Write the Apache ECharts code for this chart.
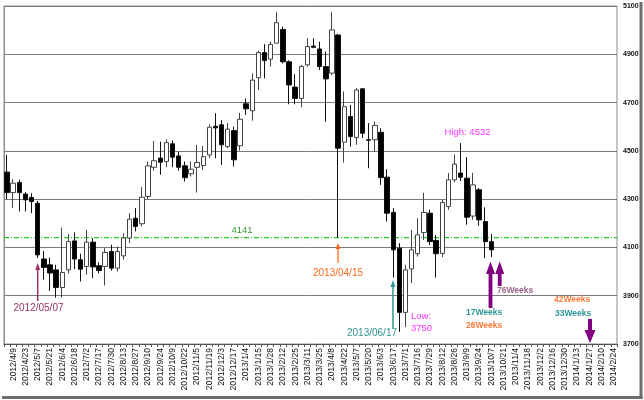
<!DOCTYPE html>
<html>
<head>
<meta charset="utf-8">
<script src="https://cdn.jsdelivr.net/npm/echarts@6/dist/echarts.min.js"></script>
<style>
html,body{margin:0;padding:0;background:#fff;}
#c{width:644px;height:400px;}
</style>
</head>
<body>
<div id="c"></div>
<script>
const dates = [
'2012/4/2','2012/4/9','2012/4/16','2012/4/23','2012/5/1','2012/5/7','2012/5/14','2012/5/21','2012/5/28','2012/6/4',
'2012/6/11','2012/6/18','2012/6/25','2012/7/2','2012/7/9','2012/7/17','2012/7/23','2012/7/30','2012/8/6','2012/8/13',
'2012/8/20','2012/8/27','2012/9/3','2012/9/10','2012/9/18','2012/9/24','2012/10/1','2012/10/9','2012/10/15','2012/10/22',
'2012/10/29','2012/11/5','2012/11/12','2012/11/19','2012/11/26','2012/12/3','2012/12/10','2012/12/17','2012/12/25','2013/1/4',
'2013/1/7','2013/1/15','2013/1/21','2013/1/28','2013/2/4','2013/2/12','2013/2/18','2013/2/25','2013/3/4','2013/3/11',
'2013/3/18','2013/3/25','2013/4/1','2013/4/8','2013/4/15','2013/4/22','2013/4/30','2013/5/7','2013/5/13','2013/5/20',
'2013/5/27','2013/6/3','2013/6/10','2013/6/17','2013/6/24','2013/7/1','2013/7/8','2013/7/16','2013/7/22','2013/7/29',
'2013/8/5','2013/8/12','2013/8/19','2013/8/26','2013/9/2','2013/9/9','2013/9/17','2013/9/24','2013/9/30','2013/10/7',
'2013/10/15','2013/10/21','2013/10/28','2013/11/4','2013/11/11','2013/11/18','2013/11/25','2013/12/2','2013/12/9','2013/12/16',
'2013/12/24','2013/12/30','2014/1/6','2014/1/13','2014/1/20','2014/1/27','2014/2/3','2014/2/10','2014/2/17','2014/2/24'
];
const openV = [
4412,4327,4369,4321,4307,4283,4052,4028,4007,3934,
4007,4127,4049,4021,4122,4024,4021,4083,4014,4065,
4139,4221,4198,4311,4432,4470,4456,4529,4479,4438,
4405,4432,4439,4483,4602,4608,4518,4584,4521,4695,
4666,4803,4907,4880,4946,5003,4869,4764,4717,4856,
4934,4922,4849,4822,4980,4536,4642,4555,4757,4546,
4546,4577,4391,4245,4097,3831,4011,4074,4162,4242,
4129,4075,4269,4380,4408,4387,4230,4339,4207,4124
];
const closeV = [
4327,4366,4327,4297,4290,4069,4017,3994,3934,3996,
4124,4052,4010,4122,4019,4004,4079,4014,4083,4139,
4217,4187,4308,4438,4459,4453,4534,4474,4432,4389,
4424,4452,4476,4598,4595,4525,4590,4463,4631,4674,
4793,4907,4874,4941,5031,4869,4773,4717,4849,4932,
4929,4849,4798,5001,4511,4683,4559,4752,4573,4544,
4605,4389,4242,4090,3831,4007,4090,4152,4245,4124,
4074,4286,4380,4445,4391,4225,4359,4214,4124,4090
];
const lowV = [
4300,4263,4249,4249,4242,4056,3966,3920,3892,3892,
3991,4010,3959,3987,3973,3993,3942,4004,4000,4049,
4118,4166,4187,4300,4418,4401,4432,4432,4418,4373,
4394,4327,4421,4470,4470,4442,4511,4435,4501,4649,
4625,4752,4800,4849,4946,4862,4693,4693,4681,4849,
4925,4835,4621,4814,4141,4452,4518,4525,4553,4428,
4497,4359,4207,3975,3750,3770,3952,4062,4131,4110,
3975,4060,4256,4369,4375,4194,4215,4190,4056,4060
];
const highV = [
4483,4383,4380,4329,4325,4293,4085,4058,4028,4182,
4156,4162,4074,4173,4139,4038,4097,4111,4104,4159,
4242,4263,4350,4456,4541,4538,4548,4543,4497,4456,
4456,4525,4521,4610,4656,4628,4615,4600,4658,4717,
4821,4915,4942,4952,5076,5015,4875,4818,4856,4966,
4966,4952,4911,5076,4985,4746,4690,4760,4760,4615,
4621,4594,4424,4263,4118,4028,4173,4221,4327,4256,
4152,4297,4408,4485,4532,4474,4409,4346,4266,4155
];
const refLevel = 4141;

const candles = openV.map((o, i) => [o, closeV[i], lowV[i], highV[i]]);

const FONT = 'Liberation Sans';
const chart = echarts.init(document.getElementById('c'), null, {renderer: 'canvas'});

function txt(x, y, s, color, size, align, bold) {
  return {type: 'text', z: 100, style: {x: x, y: y, text: s, fill: color,
    font: (bold ? 'bold ' : '') + size + 'px "' + FONT + '"',
    textAlign: align || 'center', textVerticalAlign: 'middle'}};
}
function arrowUp(cx, tipY, baseY, headW, headH, shaftW, color) {
  const hb = tipY + headH;
  return {type: 'polygon', z: 100, shape: {points: [
    [cx - shaftW / 2, baseY], [cx - shaftW / 2, hb], [cx - headW / 2, hb], [cx, tipY],
    [cx + headW / 2, hb], [cx + shaftW / 2, hb], [cx + shaftW / 2, baseY]]},
    style: {fill: color}};
}
function arrowDown(cx, tipY, topY, headW, headH, shaftW, color) {
  const hb = tipY - headH;
  return {type: 'polygon', z: 100, shape: {points: [
    [cx - shaftW / 2, topY], [cx - shaftW / 2, hb], [cx - headW / 2, hb], [cx, tipY],
    [cx + headW / 2, hb], [cx + shaftW / 2, hb], [cx + shaftW / 2, topY]]},
    style: {fill: color}};
}

const ORANGE = '#ff6a1a', TEAL = '#2f9696', MAROON = '#993366', MAG = '#ff33ff', PURPLE = '#800080';
const GREEN_LINE = '#22cc22';

const option = {
  animation: false,
  backgroundColor: '#ffffff',
  grid: {left: 4, top: 6, width: 613, height: 338, show: true, borderColor: '#8c8c8c', borderWidth: 1, backgroundColor: 'transparent'},
  xAxis: [{
    type: 'category', data: dates, boundaryGap: true,
    axisLine: {show: true, lineStyle: {color: '#555', width: 1}},
    axisTick: {show: true, interval: 0, length: 3, lineStyle: {color: '#555'}},
    axisLabel: {rotate: 90, fontSize: 8.5, color: '#111', fontFamily: FONT, margin: 4,
      interval: function (i) { return i % 2 === 1; }},
    splitLine: {show: false}
  }, {
    type: 'value', min: 0, max: 1, show: false
  }],
  yAxis: {
    type: 'value', position: 'right', min: 3700, max: 5100, interval: 200, scale: true,
    axisLine: {show: true, lineStyle: {color: '#8c8c8c'}},
    axisTick: {show: false},
    axisLabel: {fontSize: 7, color: '#111', fontFamily: FONT, margin: 6, fontWeight: 'bold',
      formatter: function (v) { return String(v); }},
    splitLine: {show: true, lineStyle: {color: '#7a7a7a', width: 1}}
  },
  series: [{
    type: 'line',
    xAxisIndex: 1,
    data: [[0, refLevel], [1, refLevel]],
    symbol: 'none', silent: true, z: 1,
    itemStyle: {color: GREEN_LINE},
    lineStyle: {color: GREEN_LINE, width: 1.2, type: [5, 2, 1, 2]}
  }, {
    type: 'candlestick',
    data: candles,
    barWidth: '80%', z: 3,
    itemStyle: {color: '#ffffff', color0: '#000000', borderColor: '#444', borderColor0: '#111', borderWidth: 1}
  }],
  graphic: [
    {type: 'rect', z: 50, shape: {x: 639.5, y: 2, width: 3, height: 397}, style: {fill: '#6e6e6e'}},
    {type: 'rect', z: 50, shape: {x: 2, y: 396, width: 640.5, height: 3}, style: {fill: '#6e6e6e'}},
    txt(242, 230, '4141', '#339933', 9.5),
    arrowUp(338, 243, 263, 5, 6, 1.3, ORANGE),
    txt(338, 273, '2013/04/15', ORANGE, 10),
    arrowUp(37.7, 263, 301, 5, 7, 1.5, MAROON),
    txt(38.5, 308, '2012/05/07', MAROON, 10),
    arrowUp(393, 280, 328, 5, 7, 1.5, TEAL),
    txt(372, 333, '2013/06/17', TEAL, 10),
    txt(411, 316.5, 'Low:', MAG, 9.5, 'left'),
    txt(411, 328, '3750', MAG, 9.5, 'left'),
    txt(467.5, 132, 'High: 4532', MAG, 9.5),
    arrowUp(490.5, 261.5, 308, 9, 12.5, 3.8, PURPLE),
    arrowUp(499.7, 261.5, 286, 9, 12.5, 3.8, PURPLE),
    arrowDown(590, 343, 319, 11, 13, 4, PURPLE),
    txt(497, 291, '76Weeks', '#9a6688', 8.5, 'left', true),
    txt(466, 312.5, '17Weeks', TEAL, 8.5, 'left', true),
    txt(466, 326, '26Weeks', '#ff7a3a', 8.5, 'left', true),
    txt(554, 300, '42Weeks', '#ff7a3a', 8.5, 'left', true),
    txt(555, 313.5, '33Weeks', TEAL, 8.5, 'left', true)
  ]
};
chart.setOption(option);
</script>
</body>
</html>
